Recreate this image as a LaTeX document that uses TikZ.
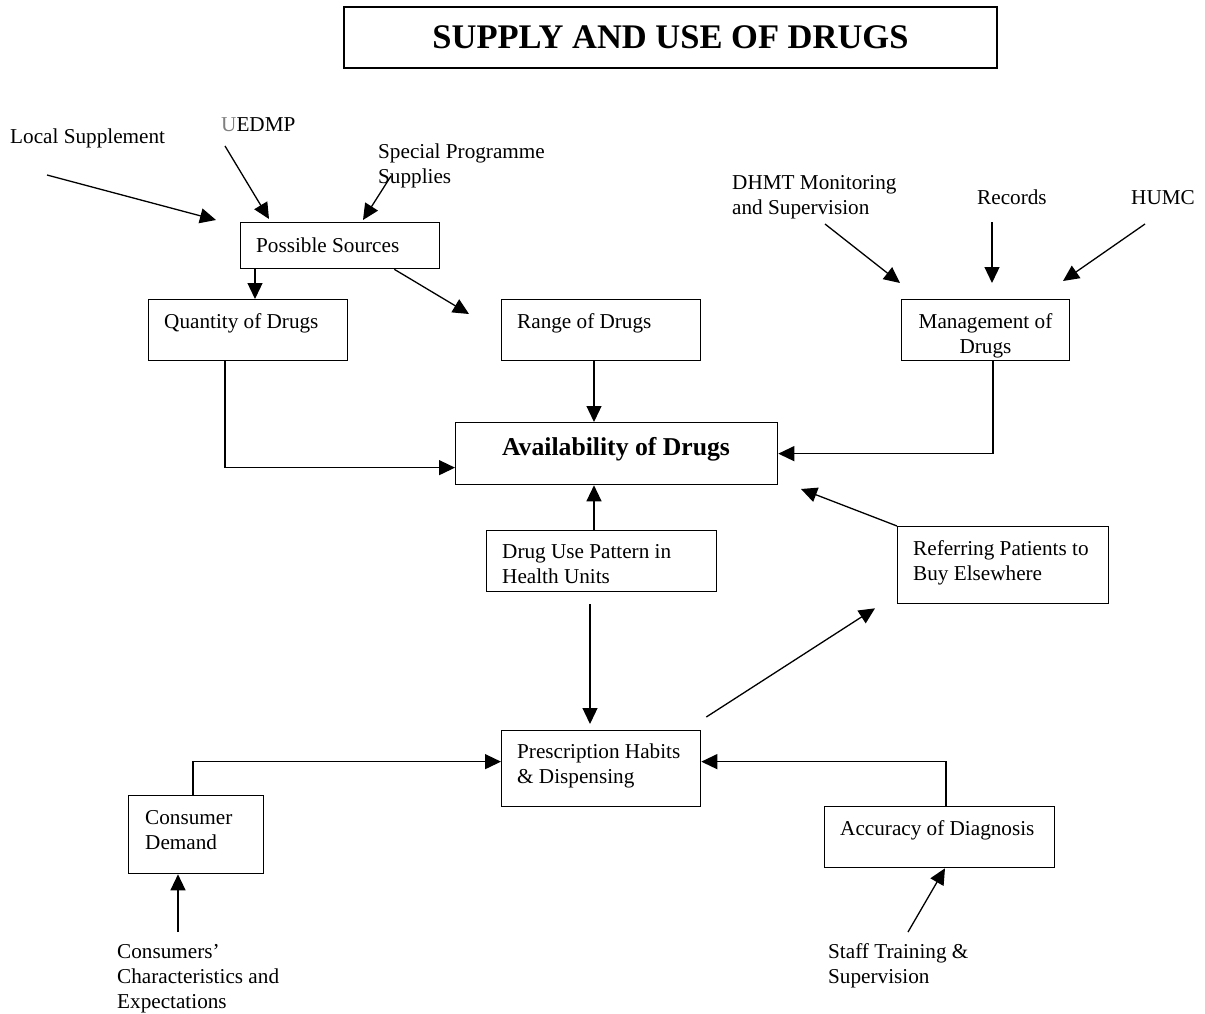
\documentclass[tikz,border=0pt]{standalone}
\usepackage{fontspec}
\setmainfont{Liberation Serif}
\usetikzlibrary{arrows.meta}
\newcommand{\fsN}{\fontsize{21.2}{25}\selectfont}
\begin{document}
\begin{tikzpicture}[x=1pt,y=-1pt,
  box/.style={draw, line width=1.3pt, inner sep=0, anchor=north west},
  txt/.style={inner sep=0, anchor=north west, align=left, font=\fsN},
  arr/.style={line width=1.3pt, -{Triangle[length=16pt,width=15pt]}}]
\useasboundingbox (0,0) rectangle (1205,1014);

% title
\node[draw, line width=1.3pt, minimum width=653pt, minimum height=61pt, inner sep=0,
      font=\fontsize{34.5}{40}\selectfont\bfseries] (title) at (670.5,37.5) {SUPPLY AND USE OF DRUGS};

% boxes
\node[box, minimum width=199pt, minimum height=46pt] (ps) at (240,222) {};
\node[box, minimum width=199pt, minimum height=61pt] (qty) at (148,299) {};
\node[box, minimum width=199pt, minimum height=61pt] (range) at (501,299) {};
\node[box, minimum width=168pt, minimum height=61pt] (mgmt) at (901,299) {};
\node[box, minimum width=322pt, minimum height=62pt] (avail) at (455,422) {};
\node[box, minimum width=230pt, minimum height=61pt] (du) at (486,530) {};
\node[box, minimum width=211pt, minimum height=77pt] (ref) at (897,526) {};
\node[box, minimum width=199pt, minimum height=76pt] (presc) at (501,730) {};
\node[box, minimum width=135pt, minimum height=78pt] (cd) at (128,795) {};
\node[box, minimum width=230pt, minimum height=61pt] (acc) at (824,806) {};

% box texts
\node[txt] (pst) at (256,234.5) {\strut Possible Sources};
\node[txt] (qtyt) at (164,310.5) {\strut Quantity of Drugs};
\node[txt] (ranget) at (517,310.5) {\strut Range of Drugs};
\node[txt, anchor=north, align=center] (mgmtt) at (985.5,310.5) {\strut Management of\\Drugs};
\node[inner sep=0, anchor=base, font=\fontsize{25.7}{30}\selectfont\bfseries] (availt) at (616,455) {Availability of Drugs};
\node[txt] (dut) at (502,540.5) {\strut Drug Use Pattern in\\Health Units};
\node[txt] (reft) at (913,537.5) {\strut Referring Patients to\\Buy Elsewhere};
\node[txt] (presct) at (517,740.5) {\strut Prescription Habits\\\& Dispensing};
\node[txt] (cdt) at (145,806.5) {\strut Consumer\\Demand};
\node[txt] (acct) at (840,817.5) {\strut Accuracy of Diagnosis};

% free labels
\node[txt] (lsup) at (10,125.5) {\strut Local Supplement};
\node[txt] (uedmp) at (221,113.5) {\strut\textcolor{gray}{U}EDMP};
\node[txt] (spec) at (378,140.5) {\strut Special Programme\\Supplies};
\node[txt] (dhmt) at (732,171.5) {\strut DHMT Monitoring\\and Supervision};
\node[txt] (rec) at (977,186.5) {\strut Records};
\node[txt] (humc) at (1131,186.5) {\strut HUMC};
\node[txt] (cons) at (117,940.5) {\strut Consumers'\\Characteristics and\\Expectations};
\node[txt] (staff) at (828,940.5) {\strut Staff Training \&\\Supervision};

% free ends
\coordinate (lsOut) at (47,175);
\coordinate (lsIn) at (216,220);
\coordinate (ueOut) at (225,146);
\coordinate (spOut) at (391,176);
\coordinate (rangeIn) at (469,314);
\coordinate (dhOut) at (825,224);
\coordinate (recOut) at (992,222);
\coordinate (huOut) at (1145,224);
\coordinate (availNE) at (801,489);
\coordinate (consOut) at (178,932);
\coordinate (staffOut) at (908,932);

% connectors
\draw[arr] (lsOut) -- (lsIn);
\draw[arr] (ueOut) -- ([xshift=29pt,yshift=3pt]ps.north west);
\draw[arr] (spOut) -- ([xshift=123pt,yshift=2pt]ps.north west);
\draw[arr] ([xshift=15pt]ps.south west) -- ([xshift=107pt]qty.north west);
\draw[arr] ([xshift=-46pt]ps.south east) -- (rangeIn);
\draw[arr] (dhOut) -- ([xshift=-1pt,yshift=16pt]mgmt.north west);
\draw[arr] (recOut) -- ([xshift=91pt,yshift=16pt]mgmt.north west);
\draw[arr] (huOut) -- ([xshift=162pt,yshift=18pt]mgmt.north west);
\draw[arr] ([xshift=77pt]qty.south west) |- ([yshift=-14pt]avail.west);
\draw[arr] ([xshift=93pt]range.south west) -- ([xshift=139pt]avail.north west);
\draw[arr] ([xshift=92pt]mgmt.south west) |- (avail.east);
\draw[arr] ([xshift=108pt]du.north west) -- ([xshift=139pt]avail.south west);
\draw[arr] (ref.north west) -- (availNE);
\draw[arr] ([xshift=104pt,yshift=-12pt]du.south west) -- ([xshift=89pt,yshift=6pt]presc.north west);
\draw[arr] ([xshift=5pt,yshift=13pt]presc.north east) -- ([xshift=-22pt,yshift=-4pt]ref.south west);
\draw[arr] ([xshift=65pt]cd.north west) |- ([yshift=7pt]presc.west);
\draw[arr] ([xshift=122pt]acc.north west) |- ([yshift=7pt]presc.east);
\draw[arr] (consOut) -- ([xshift=50pt]cd.south west);
\draw[arr] (staffOut) -- ([xshift=121pt]acc.south west);
\end{tikzpicture}
\end{document}
